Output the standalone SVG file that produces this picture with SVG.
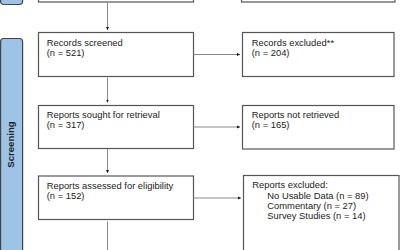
<svg xmlns="http://www.w3.org/2000/svg" width="400" height="250" viewBox="0 0 400 250">
<style>
.box{fill:#fff;stroke:#555;stroke-width:1.2}
.bar{fill:#9dc3e6;stroke:#444;stroke-width:1.2}
.t{font-family:"Liberation Sans",Arial,sans-serif;font-size:9.4px;fill:#222}
.lbl{font-family:"Liberation Sans",Arial,sans-serif;font-size:9.6px;font-weight:bold;fill:#222}
.c{stroke:#888;stroke-width:1;fill:none;marker-end:url(#ah)}
.cn{stroke:#888;stroke-width:1;fill:none}
</style>
<defs>
<marker id="ah" markerWidth="4" markerHeight="4" refX="3" refY="2" orient="auto" markerUnits="userSpaceOnUse">
<path d="M0,0.5 L3,2 L0,3.5 Z" fill="#111"/>
</marker>
</defs>
<g id="bar-top"><rect class="bar" x="0.6" y="-20" width="22" height="24.5" rx="3"/></g>
<g id="bar-screening"><rect class="bar" x="0.6" y="38.5" width="22" height="240" rx="3"/>
<text class="lbl" transform="translate(14.3,144.5) rotate(-90)" text-anchor="middle">Screening</text></g>
<g id="n-top-left"><rect class="box" x="38.5" y="-20" width="155" height="22"/></g>
<g id="n-top-right"><rect class="box" x="241.5" y="-20" width="153.5" height="22"/></g>
<g id="n-screened"><rect class="box" x="38.5" y="32.5" width="155" height="44"/>
<text class="t" x="46.7" y="45.5">Records screened</text><text class="t" x="46.7" y="55.5">(n = 521)</text></g>
<g id="n-rec-excluded"><rect class="box" x="242.5" y="32.5" width="151.5" height="44"/>
<text class="t" x="251.7" y="45.5">Records excluded**</text><text class="t" x="251.7" y="55.5">(n = 204)</text></g>
<g id="n-sought"><rect class="box" x="38.5" y="105.5" width="155" height="43"/>
<text class="t" x="46.7" y="118.3">Reports sought for retrieval</text><text class="t" x="46.7" y="128.3">(n = 317)</text></g>
<g id="n-not-retrieved"><rect class="box" x="242.5" y="105.5" width="151.5" height="43.5"/>
<text class="t" x="251.7" y="118.3">Reports not retrieved</text><text class="t" x="251.7" y="128.3">(n = 165)</text></g>
<g id="n-assessed"><rect class="box" x="38.5" y="176" width="155" height="43.5"/>
<text class="t" x="46.7" y="188.5">Reports assessed for eligibility</text><text class="t" x="46.7" y="198.5">(n = 152)</text></g>
<g id="n-rep-excluded"><rect class="box" x="243.5" y="175.5" width="155.5" height="100"/>
<text class="t" x="252.3" y="188.3">Reports excluded:</text>
<text class="t" x="267.3" y="198.5">No Usable Data (n = 89)</text>
<text class="t" x="267.3" y="208.7">Commentary (n = 27)</text>
<text class="t" x="267.3" y="218.9">Survey Studies (n = 14)</text></g>
<g id="connectors">
<path class="c" d="M107.5,3 V30"/>
<path class="c" d="M107.5,77.5 V102.5"/>
<path class="c" d="M107.5,149 V173"/>
<path class="cn" d="M107.5,221.5 V250"/>
<path class="c" d="M193.5,54.5 H240"/>
<path class="c" d="M193.5,127 H240"/>
<path class="c" d="M193.5,198 H241"/>
</g>
</svg>
